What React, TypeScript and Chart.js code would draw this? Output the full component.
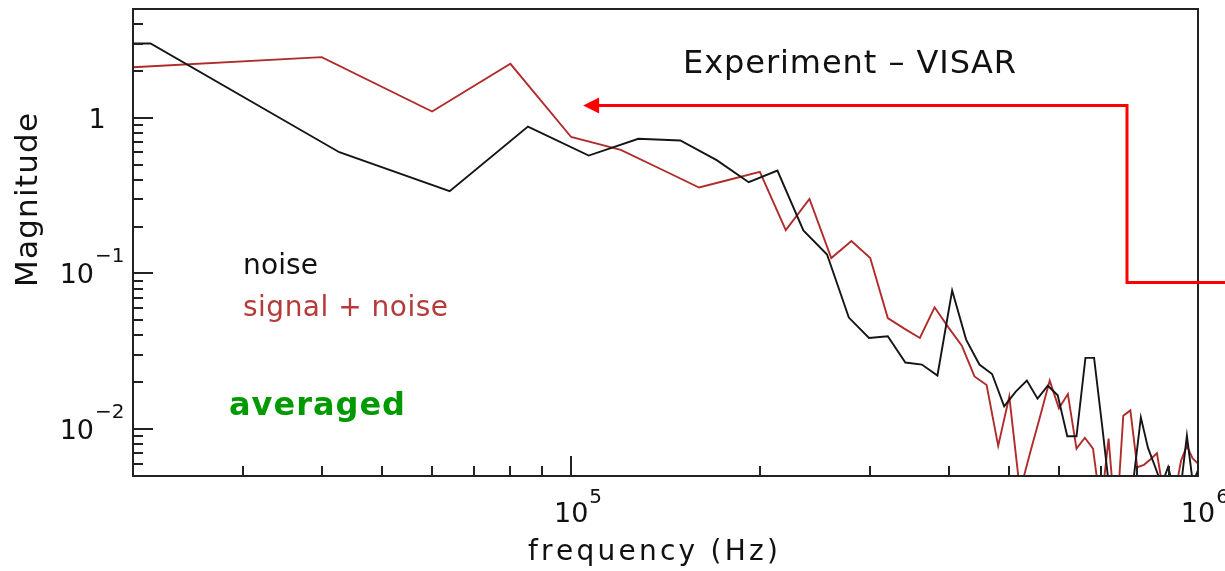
import { useEffect, useRef } from "react";
import { Chart, registerables } from "chart.js";

Chart.register(...registerables);

// Noise spectrum (FFT bins, Hz) and magnitudes
const noiseFreqHz = [
  20000, 21330, 42670, 64000, 85330, 106670, 128000, 149330, 170670, 192000,
  213330, 234670, 256000, 277330, 298670, 320000, 341330, 362670, 384000, 405330,
  426670, 448000, 469330, 490670, 512000, 533330, 554670, 576000, 597330, 618670,
  640000, 661330, 682670, 704000, 725330, 746670, 768000, 789330, 810670, 832000,
  853330, 874670, 896000, 917330, 938670, 960000, 981330, 1002670,
];
const noiseMag = [
  3.0, 3.0, 0.601, 0.3375, 0.879, 0.572, 0.733, 0.715, 0.535, 0.386,
  0.458, 0.189, 0.1323, 0.0521, 0.0385, 0.0395, 0.0268, 0.026, 0.0221, 0.0777,
  0.0376, 0.026, 0.0226, 0.014, 0.0174, 0.0205, 0.0157, 0.019, 0.0165, 0.009,
  0.009, 0.0287, 0.0287, 0.0101, 0.0035, 0.003, 0.003, 0.0048, 0.0119, 0.0076,
  0.0058, 0.0044, 0.0057, 0.004, 0.0042, 0.0091, 0.0045, 0.0056,
];

// Signal + noise spectrum
const signalFreqHz = [
  20000, 40000, 60000, 80000, 100000, 120000, 140000, 160000, 180000, 200000,
  220000, 240000, 260000, 280000, 300000, 320000, 340000, 360000, 380000, 400000,
  420000, 440000, 460000, 480000, 500000, 520000, 540000, 560000, 580000, 600000,
  620000, 640000, 660000, 680000, 700000, 720000, 740000, 760000, 780000, 800000,
  820000, 840000, 860000, 880000, 900000, 920000, 940000, 960000, 980000, 1000000,
];
const signalMag = [
  2.114, 2.452, 1.098, 2.223, 0.7526, 0.623, 0.462, 0.3565, 0.403, 0.4497,
  0.19, 0.3007, 0.1256, 0.1615, 0.1256, 0.0517, 0.0442, 0.0385, 0.0606, 0.0449,
  0.0344, 0.0218, 0.0192, 0.0078, 0.0162, 0.004, 0.0071, 0.0121, 0.0205, 0.0136,
  0.0168, 0.0075, 0.0088, 0.0075, 0.0031, 0.0087, 0.0023, 0.0122, 0.0132, 0.0057,
  0.0059, 0.0064, 0.007, 0.004, 0.0035, 0.004, 0.0063, 0.0078, 0.0065, 0.006,
];

const xRange = [2e4, 1e6];
const yRange = [5e-3, 5];

const xMajorTicks = [1e5, 1e6];
const xTickBase = ["10", "10"];
const xTickExp = ["5", "6"];

const yMajorTicks = [1, 0.1, 0.01];
const yTickBase = ["1", "10", "10"];
const yTickExp = ["", "\u22121", "\u22122"];

const seriesLabels = ["noise", "signal + noise"];
const titleText = "Experiment \u2013 VISAR";
const noteText = "averaged";
const xTitle = "frequency (Hz)";
const yTitle = "Magnitude";

// Callout arrow, in data units: tip, corner frequency, upper and lower levels
const arrowTipHz = 1.045e5;
const arrowCornerHz = 7.7e5;
const arrowUpper = 1.21;
const arrowLower = 0.0887;

const FONT = '"DejaVu Sans", sans-serif';
const NOISE_COLOR = "#151515";
const SIGNAL_COLOR = "#b02c2c";

function spacedText(ctx: CanvasRenderingContext2D, text: string, left: number, baseline: number, width: number) {
  const chars = Array.from(text);
  const ws = chars.map((c) => ctx.measureText(c).width);
  const natural = ws.reduce((s, w) => s + w, 0);
  const gap = chars.length > 1 ? (width - natural) / (chars.length - 1) : 0;
  let x = left;
  chars.forEach((c, i) => {
    ctx.fillText(c, x, baseline);
    x += ws[i] + gap;
  });
}

function logTickValues(min: number, max: number) {
  const out: { v: number; major: boolean }[] = [];
  const d0 = Math.floor(Math.log10(min));
  const d1 = Math.ceil(Math.log10(max));
  for (let d = d0; d <= d1; d++) {
    for (let k = 1; k <= 9; k++) {
      const v = k * Math.pow(10, d);
      if (v >= min * 0.999 && v <= max * 1.001) out.push({ v, major: k === 1 });
    }
  }
  return out;
}

const framePlugin = {
  id: "frame",
  afterDatasetsDraw(chart: any) {
    const { ctx, chartArea: a, scales } = chart;
    const xs = scales.x;
    const ys = scales.y;
    ctx.save();

    // inward tick marks on left and bottom axes
    ctx.strokeStyle = "#222";
    ctx.lineWidth = 2;
    ctx.beginPath();
    for (const t of logTickValues(xRange[0], xRange[1])) {
      const px = Math.round(xs.getPixelForValue(t.v));
      const len = t.major ? 20 : 10;
      ctx.moveTo(px, a.bottom);
      ctx.lineTo(px, a.bottom - len);
    }
    for (const t of logTickValues(yRange[0], yRange[1])) {
      const py = Math.round(ys.getPixelForValue(t.v));
      const len = t.major ? 20 : 10;
      ctx.moveTo(a.left, py);
      ctx.lineTo(a.left + len, py);
    }
    ctx.stroke();

    // plot frame
    ctx.strokeRect(a.left, a.top, a.right - a.left, a.bottom - a.top);

    // tick labels
    ctx.fillStyle = "#111";
    ctx.textBaseline = "alphabetic";
    xMajorTicks.forEach((v, i) => {
      const px = xs.getPixelForValue(v);
      ctx.font = `27px ${FONT}`;
      ctx.textAlign = "center";
      ctx.fillText(xTickBase[i], px, a.bottom + 46);
      const w = ctx.measureText(xTickBase[i]).width;
      ctx.font = `20px ${FONT}`;
      ctx.textAlign = "left";
      ctx.fillText(xTickExp[i], px + w / 2 + 1, a.bottom + 27);
    });
    yMajorTicks.forEach((v, i) => {
      const py = ys.getPixelForValue(v);
      ctx.font = `27px ${FONT}`;
      if (!yTickExp[i]) {
        ctx.textAlign = "center";
        ctx.fillText(yTickBase[i], a.left - 36, py + 10);
        return;
      }
      ctx.textAlign = "right";
      ctx.fillText(yTickBase[i], a.left - 39, py + 10);
      ctx.font = `20px ${FONT}`;
      ctx.textAlign = "left";
      ctx.fillText(yTickExp[i], a.left - 38, py - 11);
    });

    // axis titles
    ctx.textAlign = "left";
    ctx.font = `28px ${FONT}`;
    spacedText(ctx, xTitle, 528, 560, 250);
    ctx.save();
    ctx.translate(37, 287);
    ctx.rotate(-Math.PI / 2);
    ctx.font = `31px ${FONT}`;
    spacedText(ctx, yTitle, 0, 0, 174);
    ctx.restore();

    // title and series labels
    ctx.font = `32px ${FONT}`;
    spacedText(ctx, titleText, 683, 73, 333);
    ctx.font = `28px ${FONT}`;
    ctx.fillStyle = "#111";
    spacedText(ctx, seriesLabels[0], 243, 274, 75);
    ctx.fillStyle = "#b53a3a";
    spacedText(ctx, seriesLabels[1], 243, 316, 205);
    ctx.fillStyle = "#009a00";
    ctx.font = `bold 32px ${FONT}`;
    spacedText(ctx, noteText, 229, 415, 176);

    // callout arrow
    const tipX = xs.getPixelForValue(arrowTipHz);
    const cornerX = Math.round(xs.getPixelForValue(arrowCornerHz));
    const upY = Math.round(ys.getPixelForValue(arrowUpper)) + 0.5;
    const lowY = Math.round(ys.getPixelForValue(arrowLower)) + 0.5;
    ctx.strokeStyle = "#ff0000";
    ctx.fillStyle = "#ff0000";
    ctx.lineWidth = 3;
    ctx.lineJoin = "miter";
    ctx.beginPath();
    ctx.moveTo(chart.width, lowY);
    ctx.lineTo(cornerX, lowY);
    ctx.lineTo(cornerX, upY);
    ctx.lineTo(tipX + 14, upY);
    ctx.stroke();
    ctx.beginPath();
    ctx.moveTo(tipX, upY);
    ctx.lineTo(tipX + 16, upY - 8);
    ctx.lineTo(tipX + 16, upY + 8);
    ctx.closePath();
    ctx.fill();

    ctx.restore();
  },
};

export default function App() {
  const canvasRef = useRef<HTMLCanvasElement | null>(null);

  useEffect(() => {
    const canvas = canvasRef.current;
    if (!canvas) return;
    const toPoints = (xs: number[], ys: number[]) => xs.map((x, i) => ({ x, y: ys[i] }));
    const chart = new Chart(canvas, {
      type: "line",
      data: {
        datasets: [
          {
            label: seriesLabels[0],
            data: toPoints(noiseFreqHz, noiseMag),
            borderColor: NOISE_COLOR,
            borderWidth: 1.9,
            pointRadius: 0,
            tension: 0,
            clip: 0,
          },
          {
            label: seriesLabels[1],
            data: toPoints(signalFreqHz, signalMag),
            borderColor: SIGNAL_COLOR,
            borderWidth: 1.9,
            pointRadius: 0,
            tension: 0,
            clip: 0,
          },
        ],
      },
      options: {
        animation: false,
        responsive: false,
        devicePixelRatio: 1,
        layout: { padding: { top: 9, right: 27, left: 0, bottom: 0 } },
        plugins: {
          legend: { display: false },
          tooltip: { enabled: false },
          title: { display: false },
        },
        scales: {
          x: {
            type: "logarithmic",
            min: xRange[0],
            max: xRange[1],
            grid: { display: false },
            border: { display: false },
            ticks: { display: false },
            afterFit: (s: any) => {
              s.height = 95;
            },
          },
          y: {
            type: "logarithmic",
            min: yRange[0],
            max: yRange[1],
            grid: { display: false },
            border: { display: false },
            ticks: { display: false },
            afterFit: (s: any) => {
              s.width = 133;
            },
          },
        },
      },
      plugins: [framePlugin],
    } as any);
    return () => chart.destroy();
  }, []);

  return (
    <div style={{ position: "absolute", left: 0, top: 0, width: 1225, height: 571, background: "#fff" }}>
      <canvas ref={canvasRef} width={1225} height={571} style={{ display: "block" }} />
    </div>
  );
}
